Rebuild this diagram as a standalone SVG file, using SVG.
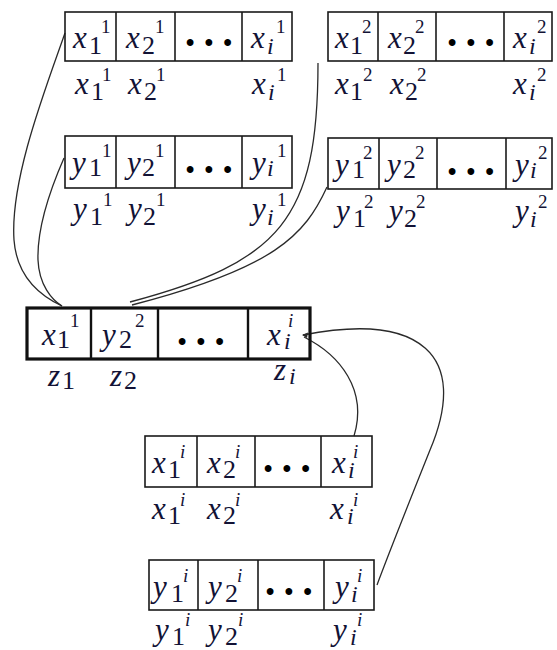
<svg xmlns="http://www.w3.org/2000/svg" width="557" height="650" viewBox="0 0 557 650">
<style>
.box{fill:none;stroke:#1a1a1a;stroke-width:1.6}
.zbox{fill:none;stroke:#111;stroke-width:3.2}
.div{stroke:#1a1a1a;stroke-width:1.6}
.zdiv{stroke:#111;stroke-width:2.4}
.txt{font-family:"Liberation Serif","Times New Roman",serif;fill:#121235}
.v{font-style:italic;font-size:31px}
.d{font-size:26px}
.di{font-style:italic;font-size:24px}
.p{font-size:19px}
.pi{font-style:italic;font-size:19px}
.dots{font-size:25px;letter-spacing:10px;text-anchor:middle;fill:#000;font-weight:bold}
.con{fill:none;stroke:#2a2a2a;stroke-width:1.3}
</style>
<rect width="557" height="650" fill="#fff"/>

<g id="connectors">
<path class="con" d="M65,33 C45,90 10,180 14,240 C17,280 45,298 62,306"/>
<path class="con" d="M64,158 C50,190 37,230 38,260 C39,285 52,300 62,306"/>
<path class="con" d="M318,63 C318,220 280,262 130,302"/>
<path class="con" d="M327,187 C305,235 275,268 132,305"/>
<path class="con" d="M303,335 C420,312 470,355 430,450 C410,500 390,550 377,585"/>
<path class="con" d="M304,337 C340,355 368,390 354,436"/>
<polygon points="302,335 308,332.5 307,338" fill="#2a2a2a"/>
</g>

<g class="txt">
<g id="array-x1">
<rect class="box" x="65" y="12" width="227" height="49"/>
<line class="div" x1="116" y1="12" x2="116" y2="61"/>
<line class="div" x1="175" y1="12" x2="175" y2="61"/>
<line class="div" x1="242" y1="12" x2="242" y2="61"/>
<text><tspan class="v" x="73" y="48">x</tspan><tspan class="d" x="89" y="54">1</tspan><tspan class="p" x="101" y="33">1</tspan></text>
<text><tspan class="v" x="126" y="48">x</tspan><tspan class="d" x="142" y="54">2</tspan><tspan class="p" x="155" y="33">1</tspan></text>
<text class="dots" x="214" y="51">•••</text>
<text><tspan class="v" x="251" y="48">x</tspan><tspan class="di" x="267" y="54">i</tspan><tspan class="p" x="276" y="33">1</tspan></text>
<text><tspan class="v" x="75" y="94">x</tspan><tspan class="d" x="91" y="100">1</tspan><tspan class="p" x="102" y="81">1</tspan></text>
<text><tspan class="v" x="128" y="94">x</tspan><tspan class="d" x="144" y="100">2</tspan><tspan class="p" x="156" y="81">1</tspan></text>
<text><tspan class="v" x="252" y="94">x</tspan><tspan class="di" x="268" y="100">i</tspan><tspan class="p" x="277" y="81">1</tspan></text>
</g>

<g id="array-x2">
<rect class="box" x="328" y="12" width="224" height="49"/>
<line class="div" x1="378" y1="12" x2="378" y2="61"/>
<line class="div" x1="436" y1="12" x2="436" y2="61"/>
<line class="div" x1="504" y1="12" x2="504" y2="61"/>
<text><tspan class="v" x="335" y="48">x</tspan><tspan class="d" x="350" y="54">1</tspan><tspan class="p" x="362" y="33">2</tspan></text>
<text><tspan class="v" x="388" y="48">x</tspan><tspan class="d" x="403" y="54">2</tspan><tspan class="p" x="415" y="33">2</tspan></text>
<text class="dots" x="476" y="51">•••</text>
<text><tspan class="v" x="513" y="48">x</tspan><tspan class="di" x="529" y="54">i</tspan><tspan class="p" x="537" y="33">2</tspan></text>
<text><tspan class="v" x="335" y="94">x</tspan><tspan class="d" x="350" y="100">1</tspan><tspan class="p" x="363" y="81">2</tspan></text>
<text><tspan class="v" x="390" y="94">x</tspan><tspan class="d" x="405" y="100">2</tspan><tspan class="p" x="417" y="81">2</tspan></text>
<text><tspan class="v" x="513" y="94">x</tspan><tspan class="di" x="529" y="100">i</tspan><tspan class="p" x="537" y="81">2</tspan></text>
</g>

<g id="array-y1">
<rect class="box" x="65" y="136" width="227" height="52"/>
<line class="div" x1="116" y1="136" x2="116" y2="188"/>
<line class="div" x1="175" y1="136" x2="175" y2="188"/>
<line class="div" x1="242" y1="136" x2="242" y2="188"/>
<text><tspan class="v" x="72" y="173">y</tspan><tspan class="d" x="89" y="176">1</tspan><tspan class="p" x="102" y="157">1</tspan></text>
<text><tspan class="v" x="127" y="173">y</tspan><tspan class="d" x="142" y="176">2</tspan><tspan class="p" x="155" y="157">1</tspan></text>
<text class="dots" x="214" y="178">•••</text>
<text><tspan class="v" x="252" y="173">y</tspan><tspan class="di" x="267" y="176">i</tspan><tspan class="p" x="277" y="157">1</tspan></text>
<text><tspan class="v" x="73" y="219">y</tspan><tspan class="d" x="90" y="225">1</tspan><tspan class="p" x="103" y="206">1</tspan></text>
<text><tspan class="v" x="128" y="219">y</tspan><tspan class="d" x="143" y="225">2</tspan><tspan class="p" x="156" y="206">1</tspan></text>
<text><tspan class="v" x="252" y="219">y</tspan><tspan class="di" x="267" y="225">i</tspan><tspan class="p" x="277" y="206">1</tspan></text>
</g>

<g id="array-y2">
<rect class="box" x="328" y="138" width="224" height="51"/>
<line class="div" x1="379" y1="138" x2="379" y2="189"/>
<line class="div" x1="437" y1="138" x2="437" y2="189"/>
<line class="div" x1="506" y1="138" x2="506" y2="189"/>
<text><tspan class="v" x="335" y="175">y</tspan><tspan class="d" x="352" y="178">1</tspan><tspan class="p" x="363" y="159">2</tspan></text>
<text><tspan class="v" x="387" y="175">y</tspan><tspan class="d" x="403" y="178">2</tspan><tspan class="p" x="415" y="159">2</tspan></text>
<text class="dots" x="476" y="180">•••</text>
<text><tspan class="v" x="515" y="175">y</tspan><tspan class="di" x="530" y="178">i</tspan><tspan class="p" x="538" y="159">2</tspan></text>
<text><tspan class="v" x="336" y="221">y</tspan><tspan class="d" x="353" y="227">1</tspan><tspan class="p" x="364" y="208">2</tspan></text>
<text><tspan class="v" x="389" y="221">y</tspan><tspan class="d" x="404" y="227">2</tspan><tspan class="p" x="416" y="208">2</tspan></text>
<text><tspan class="v" x="515" y="221">y</tspan><tspan class="di" x="530" y="227">i</tspan><tspan class="p" x="538" y="208">2</tspan></text>
</g>

<g id="array-z">
<rect class="zbox" x="27" y="308" width="283" height="51"/>
<line class="zdiv" x1="91" y1="308" x2="91" y2="359"/>
<line class="zdiv" x1="158" y1="308" x2="158" y2="359"/>
<line class="zdiv" x1="248" y1="308" x2="248" y2="359"/>
<text><tspan class="v" x="42" y="345">x</tspan><tspan class="d" x="57" y="348">1</tspan><tspan class="p" x="70" y="327">1</tspan></text>
<text><tspan class="v" x="102" y="345">y</tspan><tspan class="d" x="119" y="348">2</tspan><tspan class="p" x="135" y="327">2</tspan></text>
<text class="dots" x="206" y="350">•••</text>
<text><tspan class="v" x="267" y="345">x</tspan><tspan class="di" x="284" y="349">i</tspan><tspan class="pi" x="288" y="327">i</tspan></text>
<text><tspan class="v" x="48" y="386">z</tspan><tspan class="d" x="62" y="389">1</tspan></text>
<text><tspan class="v" x="110" y="386">z</tspan><tspan class="d" x="124" y="389">2</tspan></text>
<text><tspan class="v" x="274" y="380">z</tspan><tspan class="di" x="289" y="384">i</tspan></text>
</g>

<g id="array-xi">
<rect class="box" x="145" y="436" width="227" height="51"/>
<line class="div" x1="197" y1="436" x2="197" y2="487"/>
<line class="div" x1="255" y1="436" x2="255" y2="487"/>
<line class="div" x1="321" y1="436" x2="321" y2="487"/>
<text><tspan class="v" x="152" y="473">x</tspan><tspan class="d" x="168" y="478">1</tspan><tspan class="pi" x="180" y="458">i</tspan></text>
<text><tspan class="v" x="207" y="473">x</tspan><tspan class="d" x="223" y="478">2</tspan><tspan class="pi" x="235" y="458">i</tspan></text>
<text class="dots" x="292" y="477">•••</text>
<text><tspan class="v" x="332" y="473">x</tspan><tspan class="di" x="348" y="478">i</tspan><tspan class="pi" x="353" y="458">i</tspan></text>
<text><tspan class="v" x="152" y="519">x</tspan><tspan class="d" x="168" y="524">1</tspan><tspan class="pi" x="180" y="506">i</tspan></text>
<text><tspan class="v" x="207" y="519">x</tspan><tspan class="d" x="223" y="524">2</tspan><tspan class="pi" x="235" y="506">i</tspan></text>
<text><tspan class="v" x="330" y="519">x</tspan><tspan class="di" x="347" y="524">i</tspan><tspan class="pi" x="353" y="506">i</tspan></text>
</g>

<g id="array-yi">
<rect class="box" x="149" y="560" width="225" height="50"/>
<line class="div" x1="198" y1="560" x2="198" y2="610"/>
<line class="div" x1="258" y1="560" x2="258" y2="610"/>
<line class="div" x1="324" y1="560" x2="324" y2="610"/>
<text><tspan class="v" x="153" y="597">y</tspan><tspan class="d" x="171" y="602">1</tspan><tspan class="pi" x="183" y="582">i</tspan></text>
<text><tspan class="v" x="208" y="597">y</tspan><tspan class="d" x="225" y="602">2</tspan><tspan class="pi" x="237" y="582">i</tspan></text>
<text class="dots" x="294" y="600">•••</text>
<text><tspan class="v" x="335" y="597">y</tspan><tspan class="di" x="351" y="602">i</tspan><tspan class="pi" x="357" y="582">i</tspan></text>
<text><tspan class="v" x="155" y="640">y</tspan><tspan class="d" x="172" y="645">1</tspan><tspan class="pi" x="185" y="626">i</tspan></text>
<text><tspan class="v" x="208" y="640">y</tspan><tspan class="d" x="225" y="645">2</tspan><tspan class="pi" x="238" y="626">i</tspan></text>
<text><tspan class="v" x="333" y="640">y</tspan><tspan class="di" x="350" y="645">i</tspan><tspan class="pi" x="357" y="626">i</tspan></text>
</g>
</g>
</svg>
